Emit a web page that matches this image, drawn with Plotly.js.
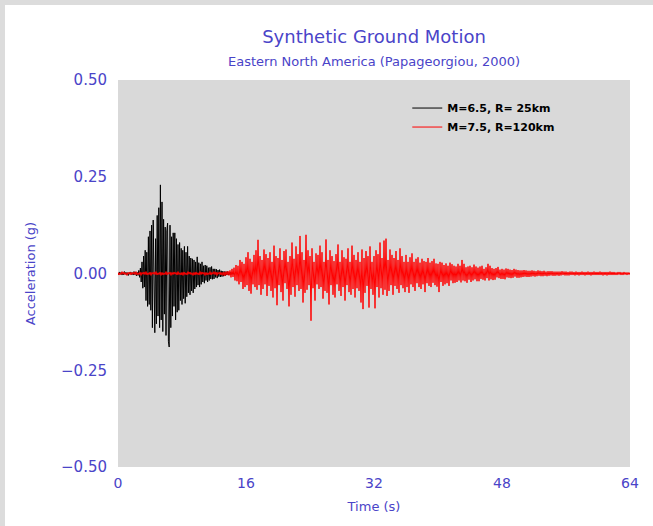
<!DOCTYPE html>
<html>
<head>
<meta charset="utf-8">
<script src="https://cdn.plot.ly/plotly-3.0.1.min.js"></script>
<style>html,body{margin:0;padding:0;background:#fff;}#chart{width:653px;height:526px;}</style>
</head>
<body>
<div id="chart"></div>
<script>
// Sample intervals (s)
const blackDt = 0.1;
const redDt = 0.125;

// Trace names
const seriesNames = ["M=6.5, R= 25km", "M=7.5, R=120km"];

// Axis ticks
const xTicks = [0, 16, 32, 48, 64];
const yTicks = [-0.5, -0.25, 0, 0.25, 0.5];

// Acceleration, in milli-g
const blackAccel_mg = [
 2,-3,4,-2,3,-4,2,-3,5,-2,
 3,-4,2,-5,3,-2,4,-3,2,-4,
 5,-3,4,-6,3,-5,8,-10,14,-22,
 30,-38,45,-35,60,-70,55,-85,95,-80,
 110,-95,125,-140,138,-120,-153,90,-130,150,
 -110,170,-140,229,-120,185,-150,140,-105,120,
 -160,110,130,-175,-190,125,-140,95,-110,105,
 -85,105,-120,90,-100,75,-95,80,-70,65,
 -80,60,-65,70,-77,55,-60,70,-50,45,
 -55,40,-45,38,-50,35,-40,30,-35,43,
 -30,28,-35,25,-28,30,-22,20,-25,22,
 -18,20,-22,15,-18,16,-14,18,-15,12,
 -14,12,-10,11,-12,9,-8,10,-9,7,
 -8,6,-7,5,-6,5,-4,5,-4,3,
 -3,3,-2,2,-2,1
];

const redAccel_mg = [
 3,-4,2,-3,5,-2,4,-3,
 2,-5,3,-2,4,-4,3,-2,
 4,-3,5,-4,2,-3,4,-5,
 3,-2,4,-3,5,-4,2,-3,
 4,-5,3,-2,4,-3,5,-4,
 2,-3,4,-5,3,-4,2,-3,
 5,-4,3,-2,4,-5,3,-3,
 4,-2,3,-4,5,-3,2,-4,
 3,-5,4,-3,2,-4,5,-2,
 4,-3,2,-5,3,-4,4,-3,
 2,-4,5,-3,4,-2,3,-5,
 3,-4,2,-3,5,-4,3,-2,
 5,-3,4,-5,3,-2,4,-4,
 3,-5,4,-6,5,-4,6,-5,
 8,-10,12,-9,15,-18,22,-20,
 20,-28,35,-22,30,-40,25,-35,
 42,-30,55,-45,38,-52,30,-28,
 48,-35,60,-42,87,-30,45,-55,
 35,-40,62,-28,50,-58,40,-32,
 55,-45,30,-62,72,-38,45,-82,
 40,-30,65,-48,35,-70,58,-25,
 62,-40,30,-85,45,-55,80,-35,
 38,-60,70,-30,50,-45,97,-40,
 55,-75,35,-50,100,-42,60,-30,
 45,-122,65,-38,30,-70,52,-28,
 48,-40,72,-35,55,-65,30,-45,
 88,-50,35,-80,60,-30,45,-55,
 32,-62,50,-28,75,-45,30,-58,
 60,-35,42,-70,38,-30,65,-48,
 30,-55,72,-40,48,-62,35,-38,
 55,-45,30,-75,62,-92,40,-50,
 58,-32,45,-88,70,-40,30,-55,
 45,-90,60,-35,50,-62,80,-38,
 40,-55,85,-42,90,-58,35,-45,
 62,-30,48,-55,40,-32,58,-40,
 35,-50,65,-30,45,-38,30,-48,
 48,-35,30,-50,42,-28,52,-35,
 30,-45,38,-25,42,-35,28,-40,
 38,-28,32,-48,30,-25,40,-32,
 28,-35,32,-24,38,-30,26,-34,
 25,-48,30,-22,28,-32,22,-28,
 26,-25,20,-32,28,-18,24,-25,
 20,-24,18,-22,25,-18,20,-23,
 35,-18,25,-20,16,-24,18,-16,
 20,-22,16,-18,23,-15,18,-20,
 15,-20,18,-14,20,-16,12,-18,
 16,-12,25,-18,20,-15,14,-17,
 12,-16,14,-10,17,-12,10,-14,
 12,-14,10,-15,13,-10,12,-11,
 10,-12,9,-11,12,-8,10,-11,
 9,-11,8,-10,8,-9,9,-8,
 8,-9,7,-9,7,-8,8,-7,
 7,-8,6,-7,8,-6,7,-7,
 6,-7,7,-6,5,-7,6,-6,
 6,-5,6,-6,5,-6,5,-5,
 5,-6,5,-5,6,-4,5,-5,
 5,-5,4,-5,5,-4,5,-4,
 4,-5,5,-4,4,-5,4,-4,
 5,-4,4,-5,4,-4,5,-4,
 4,-5,4,-4,5,-4,4,-4,
 4,-4,5,-4,4,-5,4,-4,
 4,-5,4,-4,5,-4,4,-4,
 4,-4,3,-4,4,-3,4,-4,
 3,-4,4,-3,3,-4,3,-3,
 3
];

const toG = v => v / 1000;
const blue = '#4a44c8';
const font = 'DejaVu Sans, Arial, sans-serif';

const traces = [
  {
    type: 'scatter', mode: 'lines', name: seriesNames[0],
    x0: 0, dx: blackDt, y: blackAccel_mg.map(toG),
    line: {color: '#000000', width: 1}
  },
  {
    type: 'scatter', mode: 'lines', name: seriesNames[1],
    x0: 0, dx: redDt, y: redAccel_mg.map(toG),
    line: {color: '#ff0000', width: 1}
  }
];

const layout = {
  width: 653, height: 526,
  paper_bgcolor: '#ffffff',
  plot_bgcolor: '#d9d9d9',
  margin: {l: 118, r: 23, t: 80, b: 59, pad: 0},
  font: {family: font, color: blue},
  title: {
    text: 'Synthetic Ground Motion',
    font: {family: font, size: 18, color: blue},
    x: 0.5, xref: 'paper', xanchor: 'center',
    y: 1 - 37/526, yref: 'container', yanchor: 'middle'
  },
  annotations: [{
    text: 'Eastern North America (Papageorgiou, 2000)',
    xref: 'paper', yref: 'paper', x: 0.5, y: (467-62)/387,
    xanchor: 'center', yanchor: 'middle', showarrow: false,
    font: {family: font, size: 13, color: blue}
  }],
  xaxis: {
    range: [0, 64], tickvals: xTicks, ticktext: xTicks.map(String),
    showgrid: false, zeroline: false, showline: false, ticks: '',
    ticklabelstandoff: 6,
    tickfont: {family: font, size: 14, color: blue},
    title: {text: 'Time (s)', font: {family: font, size: 13, color: blue}, standoff: 11}
  },
  yaxis: {
    range: [-0.5, 0.5], tickvals: yTicks, tickformat: '.2f',
    showgrid: false, zeroline: false, showline: false, ticks: '',
    ticklabelstandoff: 10,
    tickfont: {family: font, size: 15, color: blue},
    title: {text: 'Acceleration (g)', font: {family: font, size: 13, color: blue}, standoff: 22}
  },
  showlegend: true,
  legend: {
    x: 0.565, y: 0.965, xanchor: 'left', yanchor: 'top',
    bgcolor: 'rgba(0,0,0,0)',
    font: {family: font, size: 11, color: '#000000', weight: 'bold'},
    tracegroupgap: 0, itemwidth: 30
  },
  shapes: [
    {type: 'rect', xref: 'paper', yref: 'paper', x0: -118/512, x1: -113/512, y0: -59/387, y1: 526/387 - 59/387, fillcolor: '#dcdcdc', line: {width: 0}, layer: 'below'},
    {type: 'rect', xref: 'paper', yref: 'paper', x0: -118/512, x1: 535/512, y0: (467-5)/387, y1: 467/387, fillcolor: '#dcdcdc', line: {width: 0}, layer: 'below'}
  ]
};

Plotly.newPlot('chart', traces, layout, {staticPlot: true, displayModeBar: false});
</script>
</body>
</html>
